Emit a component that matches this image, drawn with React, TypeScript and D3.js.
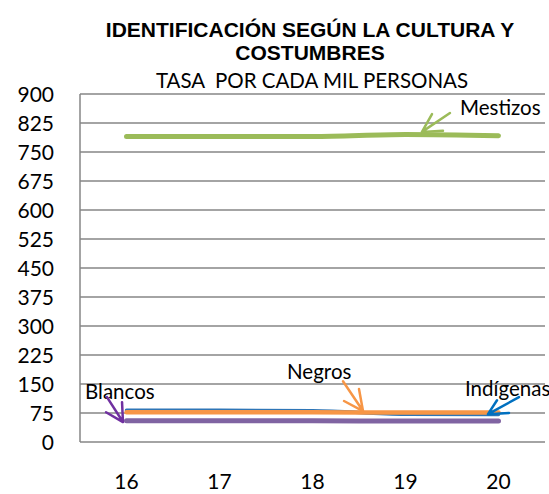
import React from "react";
import * as d3 from "d3";

const categories = ["16", "17", "18", "19", "20"];
const yTicks = [0, 75, 150, 225, 300, 375, 450, 525, 600, 675, 750, 825, 900];

const mestizos = [790, 790, 790, 795, 792];
const negros = [77, 77, 77, 76, 76];
const indigenas = [82, 82, 81, 72, 71];
const blancos = [55, 55, 55, 54, 54];

const seriesNames = ["Mestizos", "Negros", "Indígenas", "Blancos"];
const seriesColors = ["#9BBB59", "#F79646", "#2E75B6", "#8064A2"];
const seriesWidths = [5, 4.5, 3.5, 5];

// annotations in data units (category index, value)
const labelNames = ["Blancos", "Negros", "Indígenas", "Mestizos"];
const labelColors = ["#7030A0", "#F79646", "#0070C0", "#9BBB59"];
const labelTextPos = [[-0.446, 111], [1.726, 162], [3.64, 119], [3.586, 846]];
const arrowTail = [[-0.21, 116], [2.328, 157], [4.22, 116], [3.478, 851]];
const arrowTip = [[-0.038, 51.6], [2.543, 80], [3.887, 72], [3.177, 802]];
const arrowHead1 = [[-0.048, 103], [2.5, 137], [3.984, 108], [3.285, 848]];
const arrowHead2 = [[-0.22, 77], [2.339, 106], [4.113, 75], [3.403, 805]];

const W = 549;
const H = 494;
const left = 80;
const right = 545;
const top = 94;
const bottom = 442;

export default function App() {
  const xBand = d3.scaleBand().domain(categories).range([left, right]);
  const c0 = xBand(categories[0])! + xBand.bandwidth() / 2;
  const c4 = xBand(categories[4])! + xBand.bandwidth() / 2;
  const xi = d3.scaleLinear().domain([0, 4]).range([c0, c4]);
  const y = d3.scaleLinear().domain([0, 900]).range([bottom, top]);
  const line = d3
    .line<number>()
    .x((_, i) => xi(i))
    .y((d) => y(d))
    .curve(d3.curveMonotoneX);
  const allSeries = [mestizos, negros, indigenas, blancos];
  const drawOrder = [0, 3, 2, 1];
  const font = "Lato, 'Open Sans', sans-serif";

  return (
    <svg width={W} height={H} style={{ position: "absolute", left: 0, top: 0, background: "#fff" }}>
      <rect x={0} y={0} width={W} height={H} fill="#fff" />
      <text x={310} y={37} textAnchor="middle" fontFamily="'Liberation Sans', Arial, sans-serif" fontWeight="bold" fontSize={21} fill="#000">
        IDENTIFICACIÓN SEGÚN LA CULTURA Y
      </text>
      <text x={310} y={60} textAnchor="middle" fontFamily="'Liberation Sans', Arial, sans-serif" fontWeight="bold" fontSize={21} fill="#000">
        COSTUMBRES
      </text>
      <text x={312} y={88} textAnchor="middle" fontFamily={font} fontSize={20.5} fill="#000" style={{ whiteSpace: "pre" }}>
        {"TASA  POR CADA MIL PERSONAS"}
      </text>
      {yTicks.map((t) => (
        <g key={t}>
          <line x1={left} x2={right} y1={y(t)} y2={y(t)} stroke="#868686" strokeWidth={1.5} />
          <text x={54} y={y(t) + 7.5} textAnchor="end" fontFamily={font} fontSize={21} fill="#000">
            {t}
          </text>
        </g>
      ))}
      <line x1={left} x2={left} y1={top} y2={bottom} stroke="#868686" strokeWidth={1.5} />
      {categories.map((c) => (
        <text key={c} x={xBand(c)! + xBand.bandwidth() / 2} y={489} textAnchor="middle" fontFamily={font} fontSize={21} fill="#000">
          {c}
        </text>
      ))}
      {drawOrder.map((k) => (
        <path key={seriesNames[k]} d={line(allSeries[k])!} fill="none" stroke={seriesColors[k]} strokeWidth={seriesWidths[k]} strokeLinecap="round" strokeLinejoin="round" />
      ))}
      {labelNames.map((n, i) => (
        <g key={n}>
          <text x={xi(labelTextPos[i][0])} y={y(labelTextPos[i][1])} fontFamily={font} fontSize={20.5} fill="#000">
            {n}
          </text>
          <path
            d={`M${xi(arrowTail[i][0])},${y(arrowTail[i][1])}L${xi(arrowTip[i][0])},${y(arrowTip[i][1])}M${xi(arrowHead1[i][0])},${y(arrowHead1[i][1])}L${xi(arrowTip[i][0])},${y(arrowTip[i][1])}L${xi(arrowHead2[i][0])},${y(arrowHead2[i][1])}`}
            fill="none"
            stroke={labelColors[i]}
            strokeWidth={2.5}
            strokeLinecap="round"
            strokeLinejoin="round"
          />
        </g>
      ))}
    </svg>
  );
}
